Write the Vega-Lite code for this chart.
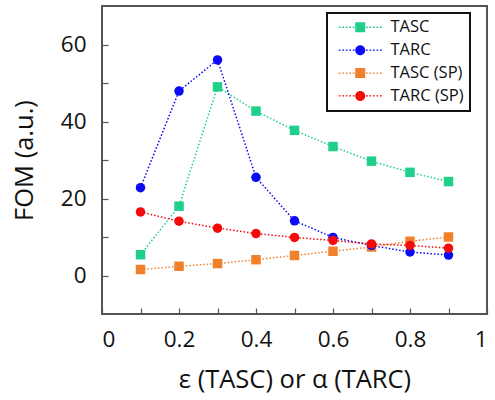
{
  "$schema": "https://vega.github.io/schema/vega-lite/v6.json",
  "width": 385,
  "height": 308,
  "autosize": "none",
  "padding": {"left": 102, "top": 6, "right": 8, "bottom": 86},
  "background": "white",
  "config": {
    "font": "Open Sans",
    "view": {"stroke": "#555555", "strokeWidth": 2},
    "axis": {"grid": false, "domain": false, "labelFont": "Open Sans", "titleFont": "Open Sans", "labelColor": "#111", "titleColor": "#111", "labelFontSize": 22.5, "titleFontSize": 25.5, "titleFontWeight": "normal", "tickColor": "#555555", "tickSize": -6, "tickWidth": 1.2},
    "legend": {
      "strokeColor": "#111", "strokeWidth": 2, "fillColor": "white",
      "padding": 6, "rowPadding": 5.9,
      "labelFont": "Open Sans", "labelFontSize": 16.5, "labelColor": "#111",
      "symbolSize": 100, "symbolOffset": 19, "labelOffset": 22,
      "symbolStrokeWidth": 0
    }
  },
  "data": {
    "values": [
      {"x": 0.1, "y": 5.4, "s": "TASC"},
      {"x": 0.2, "y": 18.0, "s": "TASC"},
      {"x": 0.3, "y": 49.0, "s": "TASC"},
      {"x": 0.4, "y": 42.7, "s": "TASC"},
      {"x": 0.5, "y": 37.7, "s": "TASC"},
      {"x": 0.6, "y": 33.5, "s": "TASC"},
      {"x": 0.7, "y": 29.7, "s": "TASC"},
      {"x": 0.8, "y": 26.8, "s": "TASC"},
      {"x": 0.9, "y": 24.4, "s": "TASC"},
      {"x": 0.1, "y": 22.8, "s": "TARC"},
      {"x": 0.2, "y": 47.9, "s": "TARC"},
      {"x": 0.3, "y": 56.0, "s": "TARC"},
      {"x": 0.4, "y": 25.5, "s": "TARC"},
      {"x": 0.5, "y": 14.2, "s": "TARC"},
      {"x": 0.6, "y": 9.9, "s": "TARC"},
      {"x": 0.7, "y": 7.8, "s": "TARC"},
      {"x": 0.8, "y": 6.1, "s": "TARC"},
      {"x": 0.9, "y": 5.3, "s": "TARC"},
      {"x": 0.1, "y": 1.55, "s": "TASC (SP)"},
      {"x": 0.2, "y": 2.4, "s": "TASC (SP)"},
      {"x": 0.3, "y": 3.1, "s": "TASC (SP)"},
      {"x": 0.4, "y": 4.1, "s": "TASC (SP)"},
      {"x": 0.5, "y": 5.2, "s": "TASC (SP)"},
      {"x": 0.6, "y": 6.3, "s": "TASC (SP)"},
      {"x": 0.7, "y": 7.4, "s": "TASC (SP)"},
      {"x": 0.8, "y": 8.9, "s": "TASC (SP)"},
      {"x": 0.9, "y": 10.0, "s": "TASC (SP)"},
      {"x": 0.1, "y": 16.5, "s": "TARC (SP)"},
      {"x": 0.2, "y": 14.1, "s": "TARC (SP)"},
      {"x": 0.3, "y": 12.3, "s": "TARC (SP)"},
      {"x": 0.4, "y": 10.9, "s": "TARC (SP)"},
      {"x": 0.5, "y": 9.9, "s": "TARC (SP)"},
      {"x": 0.6, "y": 9.1, "s": "TARC (SP)"},
      {"x": 0.7, "y": 8.2, "s": "TARC (SP)"},
      {"x": 0.8, "y": 7.8, "s": "TARC (SP)"},
      {"x": 0.9, "y": 7.1, "s": "TARC (SP)"}
    ]
  },
  "encoding": {
    "x": {
      "field": "x", "type": "quantitative",
      "scale": {"domain": [0, 1], "nice": false, "zero": false},
      "axis": {"values": [0, 0.1, 0.2, 0.3, 0.4, 0.5, 0.6, 0.7, 0.8, 0.9, 1], "labelExpr": "round(datum.value*10)%2==0 ? format(datum.value,'~g') : ''", "labelPadding": 20, "title": "ε (TASC) or α (TARC)", "titlePadding": 17}
    },
    "y": {
      "field": "y", "type": "quantitative",
      "scale": {"domain": [-10, 70], "nice": false, "zero": false},
      "axis": {"values": [0, 10, 20, 30, 40, 50, 60], "labelExpr": "datum.value%20==0 ? datum.label : ''", "labelPadding": 22, "title": "FOM (a.u.)", "titlePadding": 23}
    },
    "color": {
      "field": "s", "type": "nominal",
      "scale": {"domain": ["TASC", "TARC", "TASC (SP)", "TARC (SP)"], "range": ["#1fcf8a", "#0a0af5", "#f0802c", "#f50a0a"]},
      "legend": {"title": null, "orient": "none", "legendX": 225, "legendY": 7, "direction": "vertical"}
    }
  },
  "layer": [
    {
      "mark": {"type": "line", "strokeDash": [1.5, 2], "strokeWidth": 1.5},
      "encoding": {"detail": {"field": "s"}}
    },
    {
      "transform": [{"filter": {"field": "s", "oneOf": ["TASC", "TASC (SP)"]}}],
      "mark": {"type": "point", "shape": "square", "filled": true, "opacity": 1, "size": 90}
    },
    {
      "transform": [{"filter": {"field": "s", "oneOf": ["TARC", "TARC (SP)"]}}],
      "mark": {"type": "point", "shape": "circle", "filled": true, "opacity": 1, "size": 90}
    },
    {
      "mark": {"type": "point", "filled": true, "opacity": 1, "size": 0},
      "encoding": {
        "shape": {
          "field": "s", "type": "nominal",
          "scale": {"domain": ["TASC", "TARC", "TASC (SP)", "TARC (SP)"], "range": [
            "M-1,-1H1V1H-1Z M-4.3,-0.13h0.35v0.26h-0.35Z M-3.6,-0.13h0.35v0.26h-0.35Z M-2.9,-0.13h0.35v0.26h-0.35Z M-2.2,-0.13h0.35v0.26h-0.35Z M-1.5,-0.13h0.35v0.26h-0.35Z M1.15,-0.13h0.35v0.26h-0.35Z M1.85,-0.13h0.35v0.26h-0.35Z M2.55,-0.13h0.35v0.26h-0.35Z M3.25,-0.13h0.35v0.26h-0.35Z M3.95,-0.13h0.35v0.26h-0.35Z",
            "M-1,0A1,1,0,1,0,1,0A1,1,0,1,0,-1,0Z M-4.3,-0.13h0.35v0.26h-0.35Z M-3.6,-0.13h0.35v0.26h-0.35Z M-2.9,-0.13h0.35v0.26h-0.35Z M-2.2,-0.13h0.35v0.26h-0.35Z M-1.5,-0.13h0.35v0.26h-0.35Z M1.15,-0.13h0.35v0.26h-0.35Z M1.85,-0.13h0.35v0.26h-0.35Z M2.55,-0.13h0.35v0.26h-0.35Z M3.25,-0.13h0.35v0.26h-0.35Z M3.95,-0.13h0.35v0.26h-0.35Z",
            "M-1,-1H1V1H-1Z M-4.3,-0.13h0.35v0.26h-0.35Z M-3.6,-0.13h0.35v0.26h-0.35Z M-2.9,-0.13h0.35v0.26h-0.35Z M-2.2,-0.13h0.35v0.26h-0.35Z M-1.5,-0.13h0.35v0.26h-0.35Z M1.15,-0.13h0.35v0.26h-0.35Z M1.85,-0.13h0.35v0.26h-0.35Z M2.55,-0.13h0.35v0.26h-0.35Z M3.25,-0.13h0.35v0.26h-0.35Z M3.95,-0.13h0.35v0.26h-0.35Z",
            "M-1,0A1,1,0,1,0,1,0A1,1,0,1,0,-1,0Z M-4.3,-0.13h0.35v0.26h-0.35Z M-3.6,-0.13h0.35v0.26h-0.35Z M-2.9,-0.13h0.35v0.26h-0.35Z M-2.2,-0.13h0.35v0.26h-0.35Z M-1.5,-0.13h0.35v0.26h-0.35Z M1.15,-0.13h0.35v0.26h-0.35Z M1.85,-0.13h0.35v0.26h-0.35Z M2.55,-0.13h0.35v0.26h-0.35Z M3.25,-0.13h0.35v0.26h-0.35Z M3.95,-0.13h0.35v0.26h-0.35Z"
          ]},
          "legend": {"title": null, "orient": "none", "legendX": 225, "legendY": 7, "direction": "vertical"}
        }
      }
    }
  ]
}
